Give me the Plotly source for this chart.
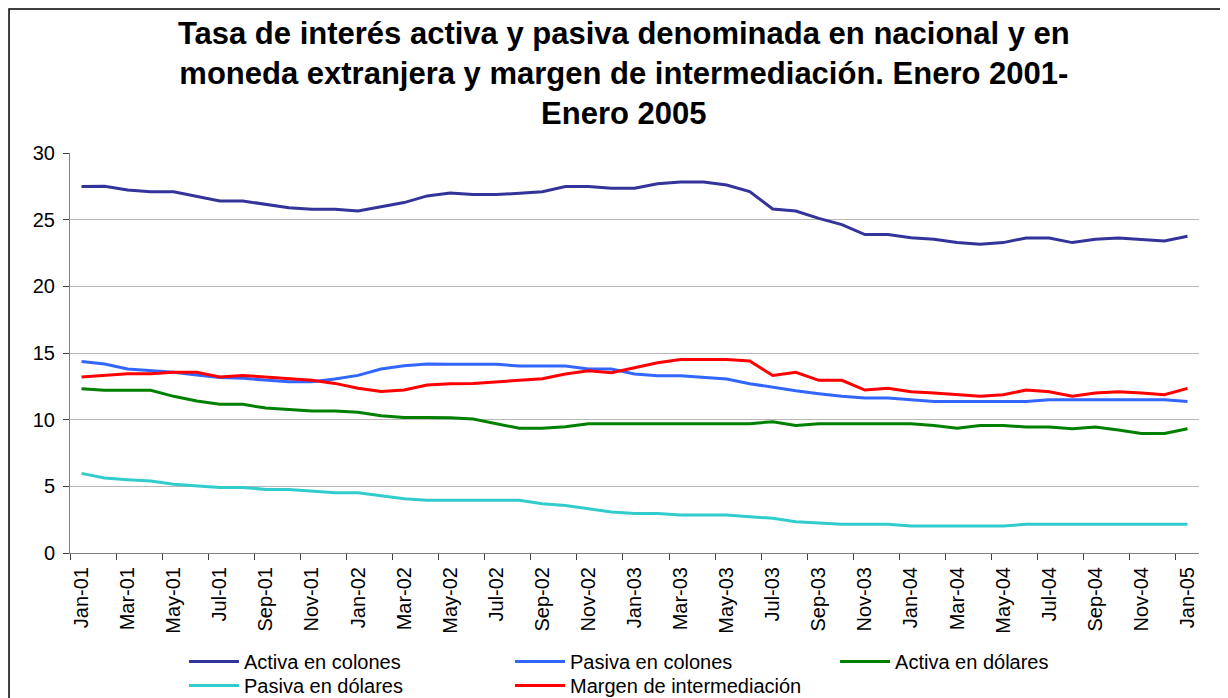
import pandas as pd
import plotly.graph_objects as go

months = list(pd.date_range("2001-01-01", periods=49, freq="MS").strftime("%b-%y"))

activa_colones = [27.48, 27.5, 27.23, 27.1, 27.1, 26.73, 26.4, 26.4, 26.13, 25.9, 25.78, 25.78, 25.65,
                  25.95, 26.28, 26.78, 27.0, 26.88, 26.88, 26.98, 27.1, 27.48, 27.48, 27.35, 27.35,
                  27.7, 27.83, 27.83, 27.6, 27.1, 25.8, 25.65, 25.1, 24.63, 23.88, 23.88, 23.65,
                  23.53, 23.28, 23.15, 23.28, 23.63, 23.63, 23.28, 23.53, 23.63, 23.5, 23.4, 23.75]
pasiva_colones = [14.37, 14.17, 13.8, 13.67, 13.55, 13.35, 13.17, 13.1, 12.97, 12.85, 12.85, 13.05, 13.32,
                  13.8, 14.05, 14.17, 14.15, 14.15, 14.15, 14.02, 14.02, 14.02, 13.8, 13.8, 13.42,
                  13.3, 13.3, 13.17, 13.05, 12.7, 12.42, 12.17, 11.95, 11.75, 11.62, 11.62, 11.5,
                  11.37, 11.37, 11.37, 11.37, 11.37, 11.5, 11.5, 11.5, 11.5, 11.5, 11.5, 11.37]
activa_dolares = [12.32, 12.2, 12.2, 12.2, 11.75, 11.4, 11.15, 11.15, 10.87, 10.75, 10.65, 10.65, 10.55,
                  10.3, 10.17, 10.17, 10.15, 10.05, 9.72, 9.35, 9.35, 9.47, 9.7, 9.7, 9.7,
                  9.7, 9.7, 9.7, 9.7, 9.7, 9.85, 9.57, 9.7, 9.7, 9.7, 9.7, 9.7,
                  9.57, 9.35, 9.57, 9.57, 9.45, 9.45, 9.32, 9.45, 9.22, 8.97, 8.97, 9.32]
pasiva_dolares = [5.97, 5.62, 5.5, 5.4, 5.15, 5.02, 4.92, 4.92, 4.77, 4.77, 4.65, 4.52, 4.52,
                  4.3, 4.07, 3.95, 3.95, 3.95, 3.95, 3.95, 3.7, 3.57, 3.32, 3.07, 2.97,
                  2.97, 2.85, 2.85, 2.85, 2.72, 2.6, 2.35, 2.24, 2.15, 2.15, 2.15, 2.02,
                  2.02, 2.02, 2.02, 2.02, 2.15, 2.15, 2.15, 2.15, 2.15, 2.15, 2.15, 2.15]
margen = [13.2, 13.32, 13.45, 13.45, 13.55, 13.55, 13.2, 13.32, 13.2, 13.07, 12.95, 12.72, 12.35,
          12.12, 12.22, 12.6, 12.7, 12.72, 12.82, 12.95, 13.07, 13.42, 13.67, 13.52, 13.9,
          14.27, 14.52, 14.52, 14.52, 14.4, 13.32, 13.55, 12.95, 12.95, 12.22, 12.35, 12.1,
          12.0, 11.87, 11.75, 11.87, 12.22, 12.1, 11.75, 12.0, 12.1, 12.0, 11.87, 12.35]

series = [
    ("Activa en colones", activa_colones, "#333399", "legend"),
    ("Pasiva en colones", pasiva_colones, "#3366FF", "legend2"),
    ("Activa en dólares", activa_dolares, "#008000", "legend3"),
    ("Pasiva en dólares", pasiva_dolares, "#33CCCC", "legend4"),
    ("Margen de intermediación", margen, "#FF0000", "legend5"),
]

fig = go.Figure()
for name, vals, color, lg in series:
    fig.add_trace(go.Scatter(x=months, y=vals, mode="lines", name=name, showlegend=True,
                             line=dict(color=color, width=3), legend=lg))

FONT = "Arial, Liberation Sans, sans-serif"
legend_common = dict(orientation="v", yanchor="top", xanchor="left",
                     xref="container", yref="container",
                     font=dict(family=FONT, size=20, color="black"),
                     bgcolor="rgba(0,0,0,0)", tracegroupgap=0, itemwidth=50)
ROW1, ROW2 = 0.0917, 0.0573
COL1, COL2, COL3 = 0.1433, 0.4088, 0.6735

fig.update_layout(
    width=1228, height=698,
    showlegend=True,
    margin=dict(l=62, r=37, t=145, b=153, autoexpand=False),
    paper_bgcolor="white", plot_bgcolor="white",
    title=dict(text="<b>Tasa de interés activa y pasiva denominada en nacional y en<br>"
                    "moneda extranjera y margen de intermediación. Enero 2001-<br>Enero 2005</b>",
               x=0.5015, xanchor="center", xref="container",
               y=0.949, yanchor="top", yref="container",
               font=dict(family=FONT, size=31, color="black")),
    xaxis=dict(type="category", range=[-0.5, 48.5], tickmode="linear", tick0=0, dtick=2,
               tickson="boundaries", ticks="outside", ticklen=6, tickcolor="#404040",
               tickangle=-90, showgrid=False, showline=True, linecolor="#808080", linewidth=1,
               automargin=False, ticklabelstandoff=5,
               tickfont=dict(family=FONT, size=20, color="black")),
    yaxis=dict(range=[0, 30], tickmode="linear", tick0=0, dtick=5, ticks="outside", ticklen=6,
               tickcolor="#404040", showgrid=True, gridcolor="#b8b8b8", gridwidth=1,
               showline=True, linecolor="#808080", linewidth=1, zeroline=False,
               automargin=False, ticklabelstandoff=4,
               tickfont=dict(family=FONT, size=20, color="black")),
    legend=dict(x=COL1, y=ROW1, **legend_common),
    legend2=dict(x=COL2, y=ROW1, **legend_common),
    legend3=dict(x=COL3, y=ROW1, **legend_common),
    legend4=dict(x=COL1, y=ROW2, **legend_common),
    legend5=dict(x=COL2, y=ROW2, **legend_common),
    shapes=[dict(type="rect", xref="paper", yref="paper", x0=-0.054, x1=1.2, y0=-0.6, y1=1.36,
                 line=dict(color="black", width=1.5), fillcolor="rgba(0,0,0,0)", layer="above")],
)

fig.write_html("out.html")
